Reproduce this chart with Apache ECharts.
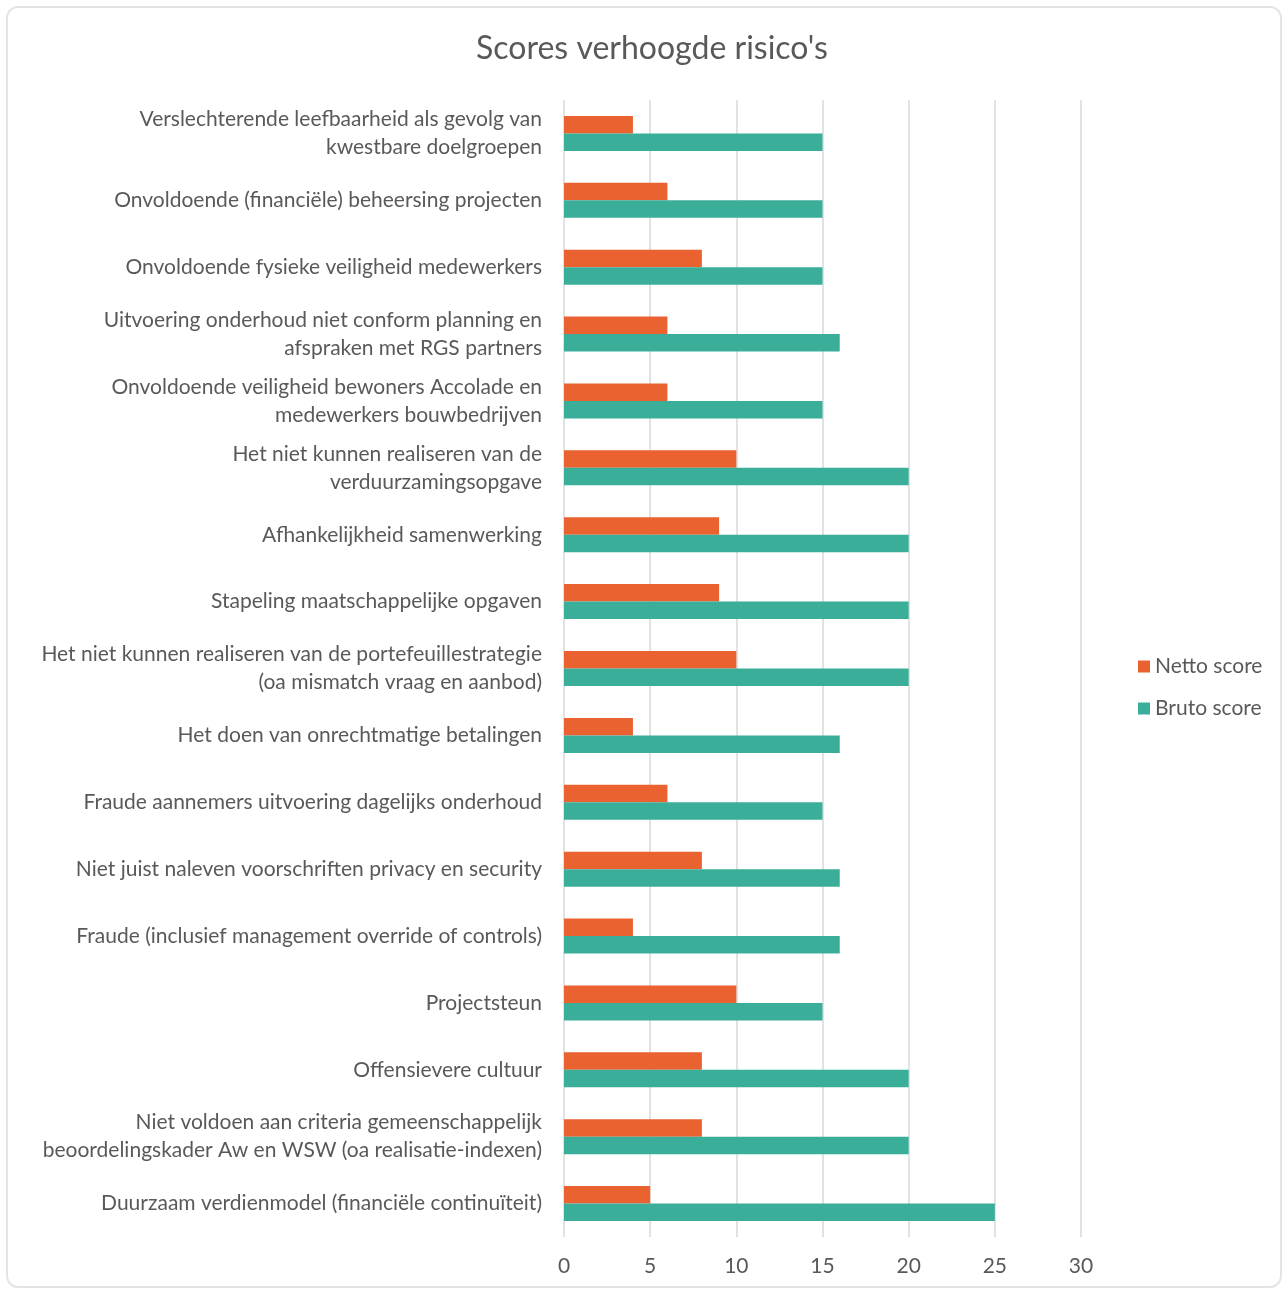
<!DOCTYPE html>
<html>
<head>
<meta charset="utf-8">
<script src="https://cdn.jsdelivr.net/npm/echarts@6/dist/echarts.min.js"></script>
<style>
  html, body { margin: 0; padding: 0; background: #fff; }
  #frame {
    position: absolute; left: 6px; top: 6px; width: 1276px; height: 1282px;
    border: 2px solid #e4e4e4; border-radius: 12px; box-sizing: border-box;
  }
  #chart { position: absolute; left: 0; top: 0; width: 1287px; height: 1293px; }
</style>
</head>
<body>
<div id="frame"></div>
<div id="chart"></div>
<script>
// categories, top to bottom
const risks = [
  'Verslechterende leefbaarheid als gevolg van\nkwestbare doelgroepen',
  'Onvoldoende (financiële) beheersing projecten',
  'Onvoldoende fysieke veiligheid medewerkers',
  'Uitvoering onderhoud niet conform planning en\nafspraken met RGS partners',
  'Onvoldoende veiligheid bewoners Accolade en\nmedewerkers bouwbedrijven',
  'Het niet kunnen realiseren van de\nverduurzamingsopgave',
  'Afhankelijkheid samenwerking',
  'Stapeling maatschappelijke opgaven',
  'Het niet kunnen realiseren van de portefeuillestrategie\n(oa mismatch vraag en aanbod)',
  'Het doen van onrechtmatige betalingen',
  'Fraude aannemers uitvoering dagelijks onderhoud',
  'Niet juist naleven voorschriften privacy en security',
  'Fraude (inclusief management override of controls)',
  'Projectsteun',
  'Offensievere cultuur',
  'Niet voldoen aan criteria gemeenschappelijk\nbeoordelingskader Aw en WSW (oa realisatie-indexen)',
  'Duurzaam verdienmodel (financiële continuïteit)'
];
const nettoScore = [4, 6, 8, 6, 6, 10, 9, 9, 10, 4, 6, 8, 4, 10, 8, 8, 5];
const brutoScore = [15, 15, 15, 16, 15, 20, 20, 20, 20, 16, 15, 16, 16, 15, 20, 20, 25];

const textColor = '#595959';
const chart = echarts.init(document.getElementById('chart'));

chart.setOption({
  animation: false,
  title: {
    text: "Scores verhoogde risico's",
    left: 647,
    top: 28,
    textAlign: 'center',
    textStyle: { color: textColor, fontSize: 32, fontWeight: 'normal', fontFamily: 'Lato' }
  },
  legend: {
    orient: 'vertical',
    left: 1133,
    top: 651,
    itemWidth: 12,
    itemHeight: 12,
    itemGap: 21,
    icon: 'rect',
    textStyle: { color: textColor, fontSize: 21, fontFamily: 'Lato' },
    data: ['Netto score', 'Bruto score']
  },
  grid: { left: 564, right: 206, top: 100, bottom: 56 },
  xAxis: {
    type: 'value',
    min: 0,
    max: 30,
    interval: 5,
    axisLine: { show: false },
    axisTick: { show: false },
    splitLine: { lineStyle: { color: '#d9d9d9', width: 1.5 } },
    axisLabel: { color: textColor, fontSize: 21, fontFamily: 'Lato', margin: 19 }
  },
  yAxis: {
    type: 'category',
    inverse: true,
    data: risks,
    axisLine: { show: false },
    axisTick: { show: false },
    axisLabel: {
      color: textColor, fontSize: 21, fontFamily: 'Lato', margin: 22,
      lineHeight: 28, align: 'right'
    }
  },
  series: [
    {
      name: 'Netto score',
      type: 'bar',
      data: nettoScore,
      barWidth: 17.5,
      barGap: '0%',
      itemStyle: { color: '#E9622F' }
    },
    {
      name: 'Bruto score',
      type: 'bar',
      data: brutoScore,
      barWidth: 17.5,
      barGap: '0%',
      itemStyle: { color: '#3BAE9A' }
    }
  ]
});
</script>
</body>
</html>
